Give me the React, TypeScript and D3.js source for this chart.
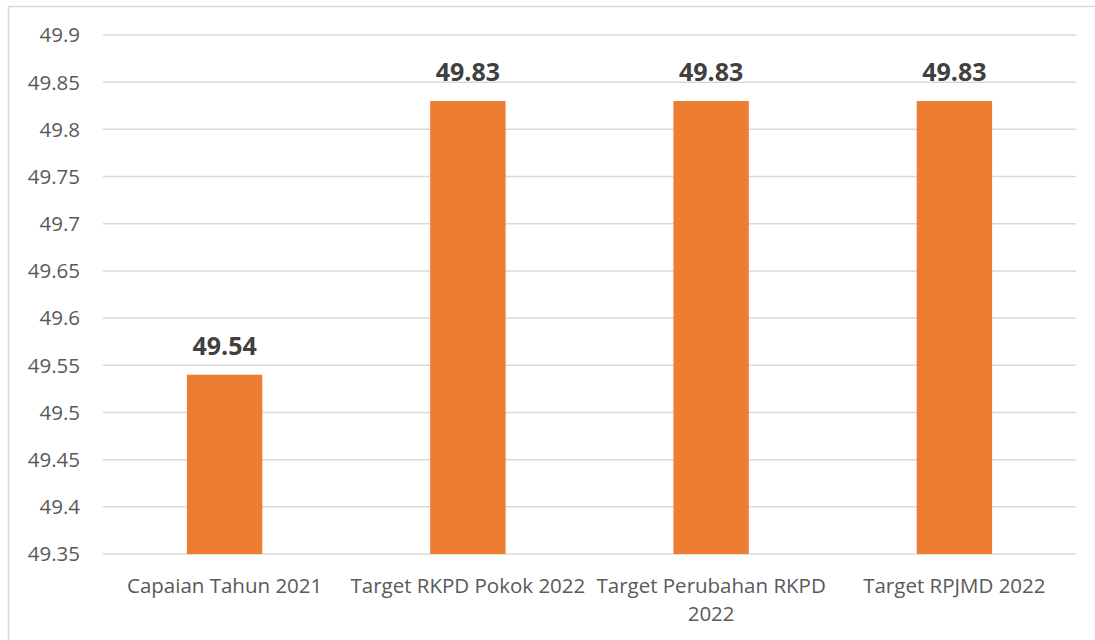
import React, { useEffect, useRef } from "react";
import * as d3 from "d3";

const categories = [
  "Capaian Tahun 2021",
  "Target RKPD Pokok 2022",
  "Target Perubahan RKPD 2022",
  "Target RPJMD 2022",
];
const values = [49.54, 49.83, 49.83, 49.83];
const yTicks = [49.35, 49.4, 49.45, 49.5, 49.55, 49.6, 49.65, 49.7, 49.75, 49.8, 49.85, 49.9];

const App = () => {
  const svgRef = useRef<SVGSVGElement>(null);

  useEffect(() => {
    const width = 1095;
    const height = 640;
    const margin = { top: 35, right: 19, bottom: 86, left: 103 };
    const font = "'Open Sans', 'DejaVu Sans', sans-serif";

    const svg = d3.select(svgRef.current);
    svg.selectAll("*").remove();
    svg.attr("width", width).attr("height", height);

    svg
      .append("rect")
      .attr("width", width)
      .attr("height", height)
      .attr("fill", "white");

    // chart frame (runs off the right and bottom edge)
    svg
      .append("rect")
      .attr("x", 8.5)
      .attr("y", 6.5)
      .attr("width", width + 20)
      .attr("height", height + 20)
      .attr("fill", "none")
      .attr("stroke", "#d9d9d9")
      .attr("stroke-width", 1.5);

    const x = d3
      .scaleBand()
      .domain(categories)
      .range([margin.left, width - margin.right])
      .paddingInner(0.69)
      .paddingOuter(0.345);

    const y = d3
      .scaleLinear()
      .domain([49.35, 49.9])
      .range([height - margin.bottom, margin.top]);

    // gridlines
    svg
      .append("g")
      .selectAll("line")
      .data(yTicks)
      .join("line")
      .attr("x1", margin.left)
      .attr("x2", width - margin.right)
      .attr("y1", (d) => y(d))
      .attr("y2", (d) => y(d))
      .attr("stroke", "#d9d9d9")
      .attr("stroke-width", 1.5);

    // y labels
    svg
      .append("g")
      .selectAll("text")
      .data(yTicks)
      .join("text")
      .attr("x", 80)
      .attr("y", (d) => y(d))
      .attr("dy", "0.36em")
      .attr("text-anchor", "end")
      .attr("font-family", font)
      .attr("font-size", 20.5)
      .attr("fill", "#595959")
      .text((d) => String(d));

    // bars
    svg
      .append("g")
      .selectAll("rect")
      .data(values)
      .join("rect")
      .attr("x", (d, i) => x(categories[i])!)
      .attr("width", x.bandwidth())
      .attr("y", (d) => y(d))
      .attr("height", (d) => y(49.35) - y(d))
      .attr("fill", "#ed7d31");

    // value labels
    svg
      .append("g")
      .selectAll("text")
      .data(values)
      .join("text")
      .attr("x", (d, i) => x(categories[i])! + x.bandwidth() / 2)
      .attr("y", (d) => y(d) - 20)
      .attr("text-anchor", "middle")
      .attr("font-family", font)
      .attr("font-weight", "bold")
      .attr("font-size", 25)
      .attr("fill", "#404040")
      .text((d) => d.toFixed(2));

    // category labels, wrapped to the band step
    const step = x.step();
    const labels = svg
      .append("g")
      .selectAll("text")
      .data(categories)
      .join("text")
      .attr("x", (d) => x(d)! + x.bandwidth() / 2)
      .attr("y", y(49.35) + 39)
      .attr("text-anchor", "middle")
      .attr("font-family", font)
      .attr("font-size", 20.5)
      .attr("fill", "#595959");

    labels.each(function (d) {
      const t = d3.select(this);
      const cx = t.attr("x");
      const words = d.split(" ");
      let line: string[] = [];
      let lineNo = 0;
      let tspan = t.append("tspan").attr("x", cx).attr("dy", 0);
      for (const w of words) {
        line.push(w);
        tspan.text(line.join(" "));
        if ((tspan.node() as SVGTSpanElement).getComputedTextLength() > step && line.length > 1) {
          line.pop();
          tspan.text(line.join(" "));
          line = [w];
          lineNo++;
          tspan = t.append("tspan").attr("x", cx).attr("dy", 28).text(w);
        }
      }
    });
  }, []);

  return (
    <div style={{ position: "absolute", left: 0, top: 0 }}>
      <svg ref={svgRef} style={{ display: "block" }}></svg>
    </div>
  );
};

export default App;
